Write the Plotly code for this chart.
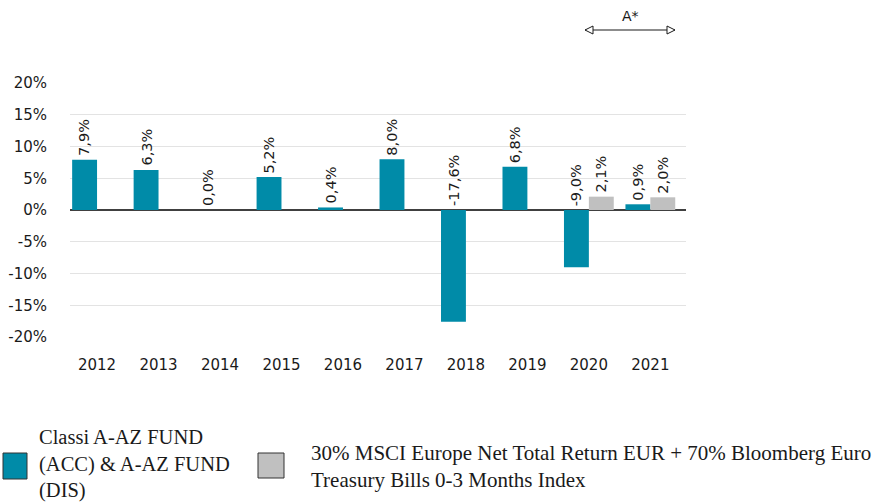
import plotly.graph_objects as go

years = ["2012", "2013", "2014", "2015", "2016", "2017", "2018", "2019", "2020", "2021"]
fund = [7.9, 6.3, 0.0, 5.2, 0.4, 8.0, -17.6, 6.8, -9.0, 0.9]
bench = [None, None, None, None, None, None, None, None, 2.1, 2.0]
fund_name = "Classi A-AZ FUND<br>(ACC) & A-AZ FUND<br>(DIS)"
bench_name = "30% MSCI Europe Net Total Return EUR + 70% Bloomberg Euro<br>Treasury Bills 0-3 Months Index"
y_ticks = [-20, -15, -10, -5, 0, 5, 10, 15, 20]

TEAL = "#008BA8"
GREY = "#C0C0C0"
TXT = "#1a1a1a"
W, H = 878, 503
L, R, T, B = 70, 192, 83, 166
PW, PH = W - L - R, H - T - B

def px_x(p):
    return (p - L) / PW

def px_y(p):
    return (H - B - p) / PH

fig = go.Figure()
fig.add_trace(go.Bar(x=years, y=fund, name="fund", marker=dict(color=TEAL, line=dict(width=0))))
fig.add_trace(go.Bar(x=years, y=bench, name="bench", marker=dict(color=GREY, line=dict(width=0))))

def fmt(v):
    return ("%.1f%%" % v).replace(".", ",")

anns = []
for i, y in enumerate(years):
    for vals, shift in ((fund, -12.5), (bench, 12.5)):
        v = vals[i]
        if v is None:
            continue
        anns.append(dict(x=i, y=max(v, 0), xref="x", yref="y", text=fmt(v), showarrow=False,
                         textangle=-90, xanchor="center", yanchor="bottom", xshift=shift, yshift=2,
                         font=dict(family="DejaVu Sans", size=14.5, color=TXT)))

# A* marker
anns.append(dict(x=px_x(630), y=px_y(16), xref="paper", yref="paper", text="A*", showarrow=False,
                 xanchor="center", yanchor="middle", font=dict(family="DejaVu Sans", size=14, color=TXT)))

shapes = []
ay = px_y(30)
x0p, x1p = px_x(585), px_x(675)
shapes.append(dict(type="line", xref="paper", yref="paper", x0=x0p, x1=x1p, y0=ay, y1=ay,
                   line=dict(color=TXT, width=1.2)))
hw, hh = 8 / PW, 4 / PH
shapes.append(dict(type="path", xref="paper", yref="paper",
                   path=f"M {x0p} {ay} L {x0p+hw} {ay+hh} L {x0p+hw} {ay-hh} Z",
                   line=dict(color=TXT, width=1), fillcolor="white"))
shapes.append(dict(type="path", xref="paper", yref="paper",
                   path=f"M {x1p} {ay} L {x1p-hw} {ay+hh} L {x1p-hw} {ay-hh} Z",
                   line=dict(color=TXT, width=1), fillcolor="white"))

# custom legend
shapes.append(dict(type="rect", xref="paper", yref="paper", x0=px_x(3), x1=px_x(27), y0=px_y(479), y1=px_y(453),
                   fillcolor=TEAL, line=dict(color="#333333", width=1)))
shapes.append(dict(type="rect", xref="paper", yref="paper", x0=px_x(258), x1=px_x(284), y0=px_y(478), y1=px_y(453),
                   fillcolor=GREY, line=dict(color="#333333", width=1)))
anns.append(dict(x=px_x(37), y=px_y(464), xref="paper", yref="paper", text=fund_name, showarrow=False,
                 xanchor="left", yanchor="middle", align="left",
                 font=dict(family="Liberation Serif", size=20.5, color=TXT)))
anns.append(dict(x=px_x(309), y=px_y(466), xref="paper", yref="paper", text=bench_name, showarrow=False,
                 xanchor="left", yanchor="middle", align="left",
                 font=dict(family="Liberation Serif", size=21, color=TXT)))

fig.update_layout(
    width=W, height=H,
    margin=dict(l=L, r=R, t=T, b=B),
    paper_bgcolor="white", plot_bgcolor="white",
    barmode="group", bargap=0.19, bargroupgap=0,
    showlegend=False,
    annotations=anns, shapes=shapes,
    xaxis=dict(type="category", range=[-0.44, 9.58], showgrid=False, showline=False, ticks="",
               automargin=False,
               tickfont=dict(family="DejaVu Sans", size=15, color=TXT), ticklabelstandoff=17),
    yaxis=dict(range=[-20, 20], tickvals=y_ticks, ticktext=[f"{v}%" for v in y_ticks],
               showgrid=True, gridcolor="#e3e3e3", gridwidth=1, automargin=False,
               zeroline=True, zerolinecolor="#404040", zerolinewidth=1.5, showline=False,
               tickfont=dict(family="DejaVu Sans", size=15, color=TXT), ticklabelstandoff=22),
)

fig.write_html("out.html", config={"displayModeBar": False},
               post_script="document.body.style.margin='0';")
